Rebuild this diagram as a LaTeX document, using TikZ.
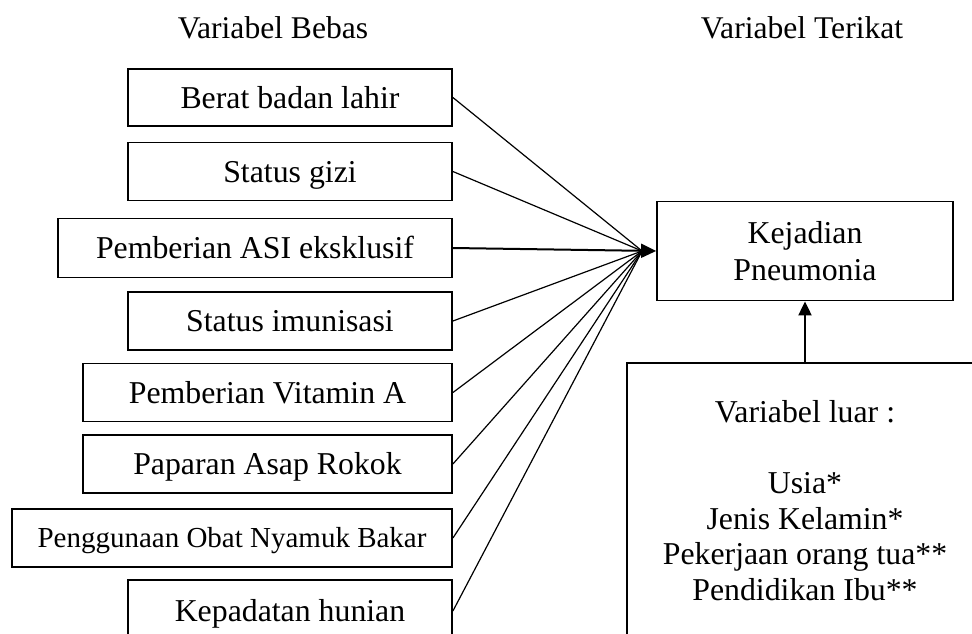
\documentclass[tikz,border=0pt]{standalone}
\usepackage{fontspec}
\setmainfont{Liberation Serif}
\usetikzlibrary{arrows.meta}
\begin{document}
\begin{tikzpicture}[x=1pt,y=-1pt,
  box/.style={draw, line width=1.8pt, inner sep=0pt, text height=21pt, text depth=0pt,
              font=\fontsize{31.8}{35.5}\selectfont},
  bigbox/.style={draw, line width=1.8pt, inner sep=0pt, align=center},
  hdr/.style={inner sep=0pt, anchor=base, font=\fontsize{31.6}{35.5}\selectfont},
  conn/.style={line width=1.2pt},
  headarrow/.style={line width=2pt, -{Triangle[length=15pt,width=14pt]}}
]
\useasboundingbox (0,0) rectangle (972,633);
\clip (0,0) rectangle (972,633);

\node[hdr] (hb) at (273,38) {Variabel Bebas};
\node[hdr] (ht) at (802,38) {Variabel Terikat};

\node[box, minimum width=324pt, minimum height=57pt] (b1) at (290,97.5) {Berat badan lahir};
\node[box, minimum width=324pt, minimum height=58pt] (b2) at (290,171.5) {Status gizi};
\node[box, minimum width=394pt, minimum height=59pt] (b3) at (255,248) {Pemberian ASI eksklusif};
\node[box, minimum width=324pt, minimum height=58pt] (b4) at (290,321) {Status imunisasi};
\node[box, minimum width=369pt, minimum height=58pt] (b5) at (267.5,392.5) {Pemberian Vitamin A};
\node[box, minimum width=369pt, minimum height=58pt] (b6) at (267.5,464) {Paparan Asap Rokok};
\node[box, minimum width=440pt, minimum height=58pt, text height=19pt,
      font=\fontsize{29}{33}\selectfont] (b7) at (232,538) {Penggunaan Obat Nyamuk Bakar};
\node[box, minimum width=324pt, minimum height=62pt] (b8) at (290,611) {Kepadatan hunian};

\node[bigbox, minimum width=296pt, minimum height=99pt,
      font=\fontsize{31.8}{37.5}\selectfont] (kej) at (805,251) {Kejadian\\Pneumonia};
\node[bigbox, minimum width=356pt, minimum height=275pt,
      font=\fontsize{31.8}{35.5}\selectfont] (luar) at (805,500.5)
  {Variabel luar :\\[35.5pt]Usia*\\Jenis Kelamin*\\Pekerjaan orang tua**\\Pendidikan Ibu**};

\coordinate (hub) at ([xshift=-14pt]kej.west);
\foreach \b in {b1,b2,b4,b5,b6,b7,b8}
  \draw[conn] (\b.east) -- (hub);
\draw[headarrow] (b3.east) -- (kej.west);
\draw[line width=2pt, -{Triangle[length=14pt,width=13pt]}] (luar.north -| kej.south) -- (kej.south);
\end{tikzpicture}
\end{document}
